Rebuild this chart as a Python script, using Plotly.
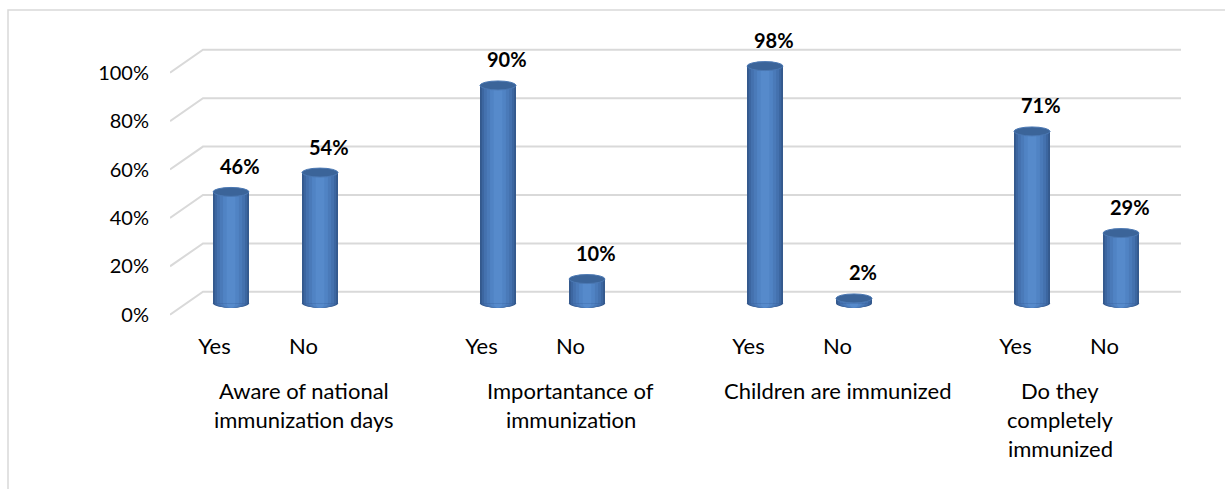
import plotly.graph_objects as go

# ---------------- data ----------------
groups = ["Aware of national<br>immunization days",
          "Importantance of<br>immunization",
          "Children are immunized",
          "Do they<br>completely<br>immunized"]
answers = ["Yes", "No"]
yes_values = [0.46, 0.90, 0.98, 0.71]
no_values = [0.54, 0.10, 0.02, 0.29]
y_ticks = [0, 0.2, 0.4, 0.6, 0.8, 1.0]

# ---------------- layout constants (pixels) ----------------
W, H = 1225, 489
PX_L, PX_R = 170, 1181      # front-plane left edge, back-wall right edge
PX_T, PX_B = 20, 325        # plot area top / bottom
SLOT = 89                   # width of one category slot
DEPTH_X, DEPTH_Y = 33, 23   # 3D depth offset (front -> back)
ZERO_MID = 304.5            # pixel of 0% in the bars' mid plane
UNIT = 243                  # pixels for 100%
FONT = "Lato"
TEXT_SIZE = 22
NUM_SIZE = 20

# slot positions: each group = Yes, No, (gap)
positions, values, cats = [], [], []
for g in range(len(groups)):
    for k, v in enumerate([yes_values[g], no_values[g]]):
        positions.append(3 * g + k)
        values.append(v)
        cats.append(answers[k])

x0_mid = PX_L + DEPTH_X / 2 + SLOT * 0.5


def px_to_xmid(px):
    return (px - x0_mid) / SLOT


xr_mid = [px_to_xmid(PX_L), px_to_xmid(PX_R)]
front_shift = (DEPTH_X / 2) / SLOT
xr_front = [xr_mid[0] + front_shift, xr_mid[1] + front_shift]
yr_mid = [(ZERO_MID - PX_B) / UNIT, (ZERO_MID - PX_T) / UNIT]
half_dy = (DEPTH_Y / 2) / UNIT
yr_front = [yr_mid[0] + half_dy, yr_mid[1] + half_dy]

BAR_W = 36 / SLOT
ELL_H = 4.5 / UNIT

layers = [(1.00, "#34598D"), (0.90, "#3C66A0"), (0.78, "#4471AE"),
          (0.62, "#4A7AB9"), (0.44, "#5083C4"), (0.24, "#568ACB")]

fig = go.Figure()
for frac, col in layers:
    fig.add_trace(go.Bar(x=positions, y=values, width=BAR_W * frac,
                         marker=dict(color=col, line=dict(width=0)),
                         hoverinfo="skip", showlegend=False,
                         xaxis="x", yaxis="y"))

# invisible trace on the front axes so they render
fig.add_trace(go.Scatter(x=[positions[0] + front_shift], y=[0], mode="markers",
                         marker=dict(opacity=0), xaxis="x2", yaxis="y2",
                         hoverinfo="skip", showlegend=False))

shapes = []
# back wall gridlines with left-wall diagonals
bx = px_to_xmid(PX_L + DEPTH_X)
for v in y_ticks:
    fy = v - half_dy
    by = v + half_dy
    shapes.append(dict(type="path", xref="x", yref="y", layer="below",
                       path=f"M {xr_mid[0]},{fy} L {bx},{by} L {xr_mid[1]},{by}",
                       line=dict(color="#D9D9D9", width=2)))
# cylinder bottoms
for p in positions:
    for frac, col in layers:
        w = BAR_W * frac
        shapes.append(dict(type="circle", xref="x", yref="y", layer="below",
                           x0=p - w / 2, x1=p + w / 2, y0=-ELL_H, y1=ELL_H,
                           fillcolor=col, line=dict(width=0)))
# cylinder tops
for p, v in zip(positions, values):
    shapes.append(dict(type="circle", xref="x", yref="y", layer="above",
                       x0=p - BAR_W / 2, x1=p + BAR_W / 2, y0=v - ELL_H, y1=v + ELL_H,
                       fillcolor="#3B6499", line=dict(color="#4B78B3", width=1)))
# outer chart border
shapes.append(dict(type="rect", xref="paper", yref="paper",
                   x0=8 / W, x1=1.02, y0=-0.02, y1=1 - 10 / H,
                   line=dict(color="#D9D9D9", width=1.5), fillcolor="rgba(0,0,0,0)"))

annotations = []
for p, v in zip(positions, values):
    annotations.append(dict(x=p, y=v, xref="x", yref="y", text=f"<b>{round(v * 100)}%</b>",
                            showarrow=False, yanchor="middle", yshift=26, xshift=9,
                            font=dict(family=FONT, size=NUM_SIZE, color="#000000")))
for g, name in enumerate(groups):
    first = 3 * g
    last = 3 * g + (2 if g < len(groups) - 1 else 1)
    cx = (first + last) / 2
    for i, line in enumerate(name.split("<br>")):
        annotations.append(dict(x=cx, y=1 - (392 + 29 * i) / H, xref="x2", yref="paper",
                                text=line, showarrow=False, yanchor="middle",
                                font=dict(family=FONT, size=TEXT_SIZE, color="#000000")))

fig.update_layout(
    width=W, height=H,
    margin=dict(l=0, r=0, t=0, b=0),
    paper_bgcolor="white", plot_bgcolor="rgba(0,0,0,0)",
    barmode="overlay",
    showlegend=False,
    font=dict(family=FONT, size=20, color="#000000"),
    xaxis=dict(domain=[PX_L / W, PX_R / W], range=xr_mid, visible=False, fixedrange=True),
    yaxis=dict(domain=[1 - PX_B / H, 1 - PX_T / H], range=yr_mid, visible=False, fixedrange=True),
    xaxis2=dict(overlaying="x", anchor="y2", side="bottom", range=xr_front,
                tickmode="array", tickvals=positions, ticktext=cats,
                showgrid=False, zeroline=False, showline=False, ticks="",
                ticklabelstandoff=7,
                tickfont=dict(family=FONT, size=TEXT_SIZE, color="#000000")),
    yaxis2=dict(overlaying="y", anchor="x2", side="left", range=yr_front,
                tickmode="array", tickvals=y_ticks, tickformat=".0%",
                showgrid=False, zeroline=False, showline=False, ticks="",
                ticklabelstandoff=20,
                tickfont=dict(family=FONT, size=NUM_SIZE, color="#000000")),
    shapes=shapes,
    annotations=annotations,
)

fig.write_html("out.html")
